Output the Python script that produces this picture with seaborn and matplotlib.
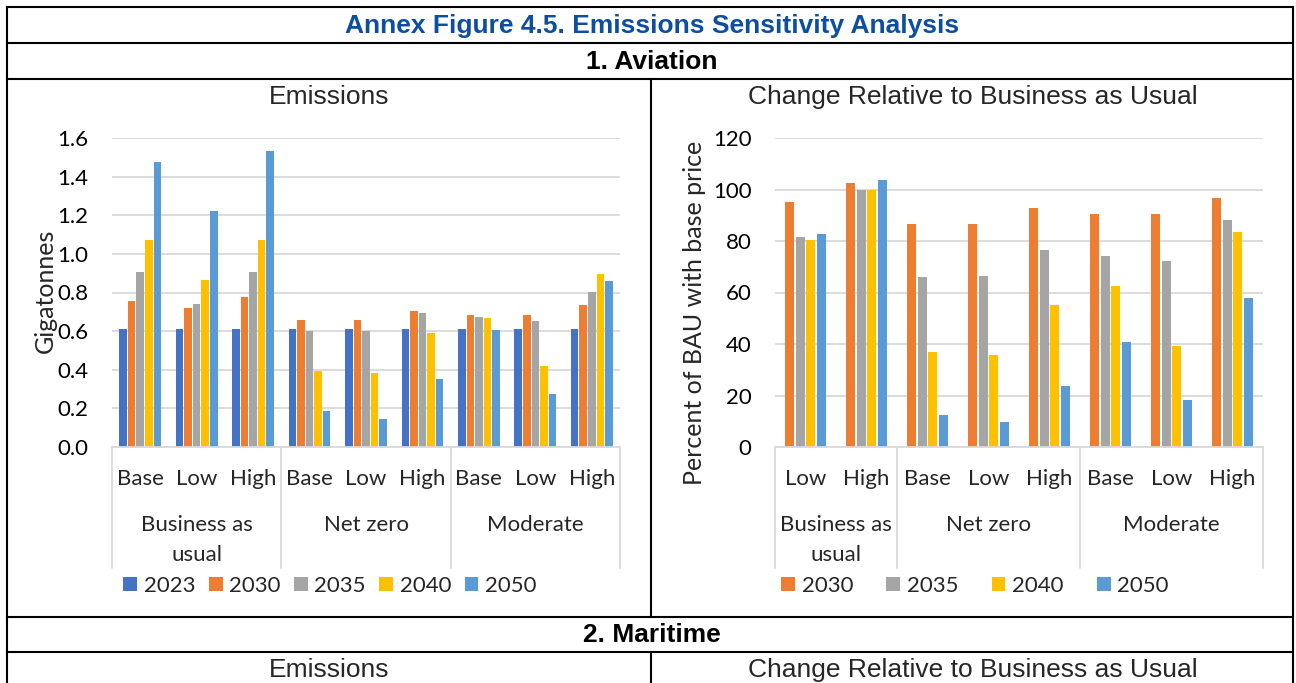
import numpy as np
import pandas as pd
import matplotlib
matplotlib.use("Agg")
import matplotlib.pyplot as plt
from matplotlib.lines import Line2D
from matplotlib.ticker import FormatStrFormatter
import seaborn as sns

# ---------------- data ----------------
groups = ["Business as\nusual", "Net zero", "Moderate"]
price_cases = ["Base", "Low", "High"]

# Emissions (gigatonnes), 9 scenario/price combinations
years_emis = ["2023", "2030", "2035", "2040", "2050"]
emis_2023 = [0.61, 0.61, 0.61, 0.61, 0.61, 0.61, 0.61, 0.61, 0.61]
emis_2030 = [0.757, 0.722, 0.777, 0.656, 0.656, 0.703, 0.682, 0.682, 0.734]
emis_2035 = [0.906, 0.741, 0.906, 0.603, 0.603, 0.693, 0.674, 0.655, 0.803]
emis_2040 = [1.072, 0.864, 1.072, 0.393, 0.383, 0.592, 0.670, 0.421, 0.897]
emis_2050 = [1.475, 1.224, 1.532, 0.185, 0.144, 0.350, 0.604, 0.274, 0.857]

# Percent of BAU with base price, 8 combinations (BAU base omitted)
rel_groups = ["Business as\nusual", "Net zero", "Moderate"]
rel_cases = ["Low", "High", "Base", "Low", "High", "Base", "Low", "High"]
rel_group_of = [0, 0, 1, 1, 1, 2, 2, 2]
years_rel = ["2030", "2035", "2040", "2050"]
rel_2030 = [95.3, 102.6, 86.6, 86.6, 92.9, 90.3, 90.3, 96.8]
rel_2035 = [81.7, 100.0, 66.2, 66.5, 76.4, 74.3, 72.1, 88.3]
rel_2040 = [80.4, 100.0, 36.8, 35.7, 55.1, 62.6, 39.4, 83.4]
rel_2050 = [82.9, 103.8, 12.6, 9.6, 23.6, 40.8, 18.4, 57.9]

year_colors = {"2023": "#4472C4", "2030": "#ED7D31", "2035": "#A5A5A5",
               "2040": "#FFC000", "2050": "#5B9BD5"}

# ---------------- figure / helpers ----------------
W, H = 1296, 683
sns.set_style("white")
plt.rcParams["font.family"] = ["Lato", "DejaVu Sans"]
fig = plt.figure(figsize=(W / 100, H / 100), dpi=100)


def fx(px):
    return px / W


def fy(py):
    return 1 - py / H


def hline(y, x0, x1):
    fig.add_artist(Line2D([fx(x0), fx(x1)], [fy(y), fy(y)], transform=fig.transFigure,
                          color="black", lw=1.5, solid_capstyle="projecting"))


def vline(x, y0, y1):
    fig.add_artist(Line2D([fx(x), fx(x)], [fy(y0), fy(y1)], transform=fig.transFigure,
                          color="black", lw=1.5, solid_capstyle="projecting"))


# table frame
for y in (7, 43, 79, 617, 652):
    hline(y, 7, 1293)
vline(7, 7, 683)
vline(1293, 7, 683)
vline(651, 79, 617)
vline(651, 652, 683)

head_font = ["Liberation Sans", "DejaVu Sans"]
HEAD_FS = 19
fig.text(fx(652), fy(26), "Annex Figure 4.5. Emissions Sensitivity Analysis", ha="center",
         va="center", fontsize=HEAD_FS, fontweight="bold", color="#0D4EA0", family=head_font)
fig.text(fx(652), fy(62), "1. Aviation", ha="center", va="center", fontsize=HEAD_FS,
         fontweight="bold", color="black", family=head_font)
fig.text(fx(329), fy(97), "Emissions", ha="center", va="center", fontsize=HEAD_FS,
         family=head_font)
fig.text(fx(973), fy(97), "Change Relative to Business as Usual", ha="center", va="center",
         fontsize=HEAD_FS, family=head_font)
fig.text(fx(652), fy(635), "2. Maritime", ha="center", va="center", fontsize=HEAD_FS,
         fontweight="bold", color="black", family=head_font)
fig.text(fx(329), fy(670), "Emissions", ha="center", va="center", fontsize=HEAD_FS,
         family=head_font)
fig.text(fx(973), fy(670), "Change Relative to Business as Usual", ha="center", va="center",
         fontsize=HEAD_FS, family=head_font)

GRID = "#D9D9D9"
TICK_FS = 16


def style_axes(ax, ylim, yticks, fmt):
    ax.set_ylim(*ylim)
    ax.set_yticks(yticks)
    ax.yaxis.set_major_formatter(FormatStrFormatter(fmt))
    ax.grid(axis="y", color=GRID, lw=1.3)
    ax.grid(axis="x", visible=False)
    ax.set_axisbelow(True)
    for s in ("top", "left", "right"):
        ax.spines[s].set_visible(False)
    ax.spines["bottom"].set_color(GRID)
    ax.spines["bottom"].set_linewidth(1.3)
    ax.tick_params(axis="y", length=0, pad=17, labelsize=TICK_FS, labelcolor="black")
    ax.tick_params(axis="x", length=0, labelbottom=False)
    ax.set_xlabel("")
    ax.set_ylabel("")


def category_labels(ax, cases, group_of, group_names, ax_h_px):
    tr = ax.get_xaxis_transform()
    n = len(cases)
    for i, c in enumerate(cases):
        ax.text(i, -(479 - 447) / ax_h_px, c, transform=tr, ha="center", va="center",
                fontsize=TICK_FS)
    bounds = [-0.5]
    for g in range(len(group_names)):
        idx = [i for i in range(n) if group_of[i] == g]
        bounds.append(idx[-1] + 0.5)
        ax.text((idx[0] + idx[-1]) / 2, -(515 - 447) / ax_h_px, group_names[g], transform=tr,
                ha="center", va="top", fontsize=TICK_FS, linespacing=1.6)
    for b in bounds:
        ax.plot([b, b], [0, -(568 - 447) / ax_h_px], transform=tr, clip_on=False,
                color=GRID, lw=1.3)


def legend_for(ax, cx, spacing):
    handles, labels = ax.get_legend_handles_labels()
    if ax.get_legend() is not None:
        ax.get_legend().remove()
    fig.legend(handles, labels, loc="center", bbox_to_anchor=(fx(cx), fy(586)), ncol=len(labels),
               frameon=False, fontsize=TICK_FS, handlelength=0.62, handleheight=0.62,
               handletextpad=0.3, columnspacing=spacing, borderaxespad=0)


AX_H = 447 - 138

# ---------------- left panel: emissions ----------------
emis_cols = [emis_2023, emis_2030, emis_2035, emis_2040, emis_2050]
keys_l = [f"{g}|{c}" for g in groups for c in price_cases]
df_l = pd.DataFrame({
    "key": np.tile(keys_l, len(years_emis)),
    "year": np.repeat(years_emis, len(keys_l)),
    "value": np.concatenate(emis_cols),
})
axL = fig.add_axes([fx(112), fy(447), (620 - 112) / W, AX_H / H])
sns.barplot(data=df_l, x="key", y="value", hue="year", order=keys_l, hue_order=years_emis,
            palette=year_colors, width=0.76, gap=0.12, saturation=1, ax=axL,
            edgecolor="none")
axL.set_xlim(-0.5, len(keys_l) - 0.5)
style_axes(axL, (0, 1.6), np.arange(0, 1.61, 0.2), "%.1f")
category_labels(axL, price_cases * 3, [0, 0, 0, 1, 1, 1, 2, 2, 2], groups, AX_H)
axL.text((45 - 112) / (620 - 112), (447 - 291) / AX_H, "Gigatonnes", rotation=90,
         transform=axL.transAxes, ha="center", va="center", fontsize=18)
legend_for(axL, 330, 0.6)

# ---------------- right panel: change relative to BAU ----------------
rel_cols = [rel_2030, rel_2035, rel_2040, rel_2050]
keys_r = [f"{rel_groups[g]}|{c}|{i}" for i, (g, c) in enumerate(zip(rel_group_of, rel_cases))]
df_r = pd.DataFrame({
    "key": np.tile(keys_r, len(years_rel)),
    "year": np.repeat(years_rel, len(keys_r)),
    "value": np.concatenate(rel_cols),
})
axR = fig.add_axes([fx(775), fy(447), (1263 - 775) / W, AX_H / H])
sns.barplot(data=df_r, x="key", y="value", hue="year", order=keys_r, hue_order=years_rel,
            palette=year_colors, width=0.7, gap=0.14, saturation=1, ax=axR,
            edgecolor="none")
axR.set_xlim(-0.5, len(keys_r) - 0.5)
style_axes(axR, (0, 120), np.arange(0, 121, 20), "%d")
category_labels(axR, rel_cases, rel_group_of, rel_groups, AX_H)
axR.text((694 - 775) / (1263 - 775), (447 - 313) / AX_H, "Percent of BAU with base price",
         rotation=90, transform=axR.transAxes, ha="center", va="center", fontsize=18)
legend_for(axR, 975, 1.5)

fig.savefig("out.png", dpi=100)
